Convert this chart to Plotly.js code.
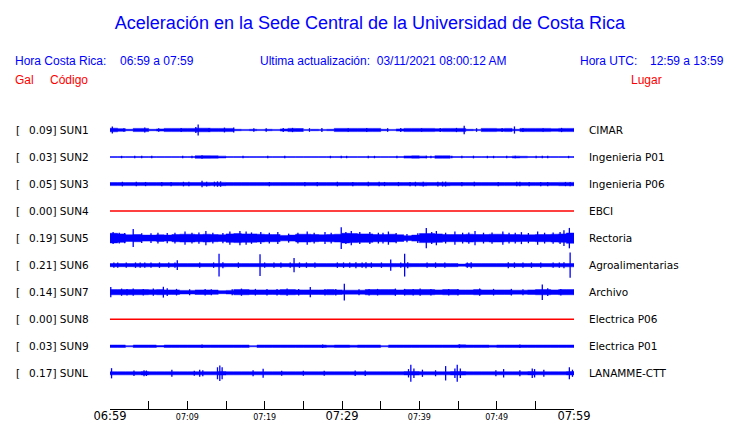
<!DOCTYPE html>
<html>
<head>
<meta charset="utf-8">
<script src="https://cdn.plot.ly/plotly-3.0.1.min.js"></script>
<style>html,body{margin:0;padding:0;background:#fff;}</style>
</head>
<body>
<div id="chart" style="width:740px;height:423px;"></div>
<script>
// ---- data (amplitudes in gal, time in minutes after 06:59) ----
var codes  = ["SUN1","SUN2","SUN3","SUN4","SUN5","SUN6","SUN7","SUN8","SUN9","SUNL"];
var places = ["CIMAR","Ingenieria P01","Ingenieria P06","EBCI","Rectoria","Agroalimentarias","Archivo","Electrica P06","Electrica P01","LANAMME-CTT"];
var peaks  = [0.09,0.03,0.05,0.00,0.19,0.21,0.14,0.00,0.03,0.17];

var tickMinutes = [0,5,10,15,20,25,30,35,40,45,50,55,60];
var tickLabels  = ["06:59","","07:09","","07:19","","07:29","","07:39","","07:49","","07:59"];
var bigTicks    = ["06:59","07:29","07:59"];

// per-minute half-amplitude of the background band
var bandSUN1 = [0.03,0.022,0.012,0.027,0.027,0.012,0.018,0.027,0.027,0.027,0.027,0.03,0.03,0.027,0.027,0.027,0.012,0.01,0.012,0.01,0.012,0.01,0.018,0.027,0.025,0.01,0.012,0.01,0.012,0.027,0.027,0.027,0.027,0.027,0.027,0.012,0.01,0.018,0.027,0.027,0.027,0.027,0.022,0.027,0.027,0.027,0.012,0.01,0.027,0.027,0.022,0.027,0.012,0.027,0.027,0.027,0.027,0.022,0.027,0.027];
var bandSUN2 = [0.008,0.008,0.008,0.008,0.008,0.008,0.008,0.008,0.008,0.008,0.008,0.02,0.022,0.02,0.015,0.008,0.008,0.008,0.008,0.008,0.008,0.008,0.008,0.008,0.008,0.008,0.008,0.008,0.008,0.008,0.008,0.008,0.008,0.008,0.008,0.008,0.008,0.008,0.018,0.02,0.015,0.008,0.02,0.02,0.008,0.008,0.008,0.008,0.008,0.008,0.008,0.008,0.015,0.012,0.008,0.008,0.008,0.008,0.008,0.008];
var bandSUN3 = [0.026,0.026,0.026,0.026,0.026,0.026,0.026,0.026,0.026,0.026,0.026,0.026,0.028,0.026,0.028,0.026,0.026,0.026,0.026,0.026,0.026,0.026,0.026,0.026,0.026,0.026,0.026,0.026,0.026,0.026,0.026,0.026,0.026,0.026,0.026,0.026,0.026,0.026,0.026,0.026,0.028,0.026,0.026,0.028,0.026,0.026,0.026,0.026,0.026,0.026,0.026,0.026,0.026,0.026,0.026,0.026,0.026,0.026,0.028,0.028];
var bandSUN4 = [];
var bandSUN5 = [0.08,0.07,0.055,0.06,0.05,0.05,0.055,0.05,0.06,0.065,0.065,0.06,0.065,0.06,0.055,0.07,0.075,0.07,0.07,0.065,0.06,0.06,0.045,0.05,0.065,0.065,0.06,0.055,0.06,0.065,0.08,0.075,0.07,0.07,0.06,0.06,0.065,0.055,0.04,0.05,0.075,0.075,0.07,0.06,0.06,0.06,0.065,0.06,0.06,0.065,0.065,0.06,0.06,0.055,0.055,0.06,0.06,0.065,0.07,0.085];
var bandSUN6 = [0.026,0.026,0.026,0.028,0.028,0.026,0.026,0.026,0.026,0.026,0.026,0.026,0.026,0.026,0.028,0.026,0.026,0.026,0.026,0.026,0.026,0.026,0.026,0.026,0.026,0.026,0.026,0.026,0.026,0.026,0.026,0.026,0.026,0.026,0.026,0.026,0.028,0.026,0.028,0.026,0.026,0.026,0.026,0.026,0.026,0.018,0.026,0.026,0.026,0.026,0.026,0.026,0.026,0.026,0.026,0.026,0.026,0.028,0.028,0.028];
var bandSUN7 = [0.043,0.043,0.043,0.043,0.043,0.04,0.043,0.038,0.038,0.03,0.03,0.038,0.038,0.036,0.025,0.03,0.043,0.043,0.038,0.038,0.038,0.038,0.043,0.043,0.038,0.038,0.038,0.038,0.043,0.038,0.033,0.033,0.033,0.043,0.043,0.043,0.043,0.038,0.043,0.043,0.043,0.043,0.038,0.043,0.043,0.038,0.038,0.043,0.038,0.038,0.038,0.038,0.033,0.033,0.038,0.043,0.043,0.038,0.043,0.043];
var bandSUN8 = [];
var bandSUN9 = [0.02,0.02,0.01,0.02,0.02,0.02,0.012,0.02,0.02,0.02,0.02,0.02,0.02,0.02,0.02,0.02,0.02,0.02,0.01,0.02,0.02,0.02,0.02,0.02,0.02,0.02,0.02,0.02,0.016,0.02,0.02,0.016,0.02,0.02,0.02,0.01,0.02,0.02,0.02,0.02,0.02,0.02,0.02,0.02,0.02,0.023,0.02,0.02,0.02,0.016,0.02,0.02,0.02,0.02,0.02,0.02,0.02,0.02,0.02,0.02];
var bandSUNL = [0.026,0.026,0.026,0.026,0.028,0.026,0.026,0.026,0.026,0.026,0.026,0.026,0.026,0.026,0.03,0.026,0.026,0.026,0.026,0.026,0.026,0.026,0.026,0.026,0.026,0.026,0.026,0.026,0.026,0.026,0.026,0.026,0.026,0.026,0.026,0.026,0.026,0.026,0.028,0.03,0.026,0.026,0.026,0.026,0.028,0.03,0.026,0.026,0.026,0.026,0.026,0.026,0.026,0.026,0.028,0.026,0.026,0.026,0.026,0.028];

// isolated peaks: [minute, half-amplitude]
var spikesSUN1 = [[0.3,0.06],[1.8,0.03],[4.5,0.04],[6.3,0.03],[9.2,0.035],[11.1,0.05],[11.4,0.09],[12.8,0.035],[14.8,0.04],[16.0,0.04],[18.6,0.03],[20.2,0.03],[22.4,0.035],[23.6,0.035],[25.8,0.03],[27.4,0.035],[30.8,0.03],[33.2,0.035],[35.9,0.03],[37.6,0.035],[40.3,0.03],[42.7,0.035],[44.8,0.035],[45.8,0.07],[47.4,0.03],[50.7,0.035],[52.3,0.06],[53.4,0.035],[56.0,0.03],[58.4,0.035]];
var spikesSUN2 = [[1.5,0.02],[3.2,0.02],[4.1,0.02],[5.4,0.02],[9.4,0.02],[10.6,0.02],[11.9,0.03],[17.2,0.02],[20.4,0.02],[22.6,0.02],[28.5,0.02],[29.9,0.02],[30.6,0.02],[33.4,0.022],[34.2,0.02],[37.1,0.02],[40.9,0.022],[41.5,0.02],[44.2,0.022],[45.5,0.022],[47.0,0.022],[48.8,0.02],[49.6,0.02],[51.3,0.02],[52.4,0.022],[55.1,0.02],[55.9,0.02],[56.6,0.02],[59.3,0.02]];
var spikesSUN3 = [[1.6,0.038],[3.4,0.038],[4.6,0.035],[6.7,0.035],[7.9,0.035],[9.5,0.038],[10.2,0.038],[11.9,0.055],[12.5,0.04],[13.5,0.04],[13.9,0.045],[14.3,0.045],[20.6,0.035],[25.2,0.035],[26.8,0.035],[29.4,0.038],[31.4,0.035],[33.4,0.038],[34.8,0.038],[35.5,0.035],[37.3,0.035],[38.8,0.035],[39.5,0.038],[40.5,0.04],[42.4,0.04],[43.0,0.04],[43.4,0.04],[45.5,0.035],[47.1,0.038],[50.2,0.035],[52.6,0.038],[53.0,0.038],[54.2,0.035],[55.7,0.035],[56.6,0.035],[58.9,0.035],[59.5,0.035]];
var spikesSUN4 = [];
var spikesSUN5 = [[0.4,0.1],[1.2,0.09],[1.9,0.085],[3.0,0.15],[4.1,0.08],[5.3,0.08],[6.2,0.09],[7.4,0.085],[8.4,0.09],[9.7,0.11],[10.6,0.09],[11.5,0.095],[12.4,0.12],[13.3,0.09],[14.6,0.085],[15.5,0.11],[16.8,0.12],[17.6,0.11],[18.3,0.095],[19.5,0.1],[20.6,0.09],[21.7,0.1],[23.1,0.075],[24.3,0.09],[25.5,0.11],[26.4,0.09],[27.8,0.1],[28.6,0.09],[29.9,0.18],[30.5,0.1],[31.2,0.12],[32.3,0.1],[33.6,0.1],[34.7,0.09],[35.3,0.09],[36.0,0.11],[37.0,0.085],[38.4,0.07],[39.8,0.08],[40.9,0.17],[41.6,0.1],[42.2,0.12],[43.4,0.09],[44.6,0.11],[45.6,0.09],[46.4,0.095],[47.2,0.12],[48.3,0.09],[49.4,0.095],[50.8,0.11],[51.6,0.09],[52.4,0.09],[53.2,0.1],[54.1,0.085],[55.3,0.11],[56.2,0.09],[57.3,0.095],[58.2,0.1],[58.7,0.13],[59.4,0.17]];
var spikesSUN6 = [[0.5,0.045],[1.0,0.045],[2.1,0.045],[3.3,0.045],[3.9,0.045],[4.5,0.045],[5.3,0.045],[6.4,0.045],[7.6,0.045],[8.4,0.045],[8.7,0.08],[11.6,0.045],[13.4,0.045],[14.1,0.19],[14.6,0.05],[16.6,0.045],[19.4,0.18],[20.0,0.045],[21.2,0.045],[22.1,0.045],[23.3,0.045],[23.8,0.12],[24.5,0.045],[25.4,0.045],[26.5,0.045],[29.4,0.045],[30.2,0.045],[31.0,0.045],[31.8,0.05],[32.6,0.045],[33.1,0.05],[33.8,0.045],[35.1,0.045],[36.3,0.095],[37.6,0.045],[38.1,0.19],[38.5,0.05],[41.0,0.045],[42.1,0.045],[43.3,0.045],[46.2,0.045],[46.7,0.05],[51.5,0.05],[52.3,0.045],[53.4,0.045],[54.5,0.045],[55.7,0.045],[57.3,0.045],[58.1,0.045],[58.7,0.05],[59.5,0.21]];
var spikesSUN7 = [[0.1,0.085],[1.5,0.06],[2.2,0.055],[3.0,0.06],[4.3,0.055],[5.6,0.06],[6.9,0.09],[7.4,0.065],[8.6,0.055],[10.3,0.05],[12.3,0.055],[13.1,0.05],[15.8,0.05],[17.0,0.06],[18.8,0.055],[20.3,0.055],[21.6,0.055],[22.9,0.06],[24.4,0.055],[25.9,0.085],[27.8,0.055],[29.2,0.055],[30.3,0.14],[32.2,0.05],[33.5,0.055],[34.6,0.055],[36.9,0.06],[38.1,0.055],[39.2,0.055],[40.1,0.06],[41.5,0.055],[43.8,0.055],[45.0,0.055],[47.8,0.06],[49.6,0.055],[51.9,0.055],[53.4,0.05],[55.9,0.13],[56.6,0.065],[58.3,0.055]];
var spikesSUN8 = [];
var spikesSUN9 = [[11.9,0.03],[27.5,0.028],[45.2,0.03],[53.0,0.028]];
var spikesSUNL = [[0.2,0.085],[3.1,0.045],[4.4,0.05],[4.7,0.045],[8.0,0.06],[10.9,0.04],[11.6,0.06],[12.0,0.05],[13.9,0.1],[14.2,0.13],[14.5,0.1],[18.5,0.05],[19.8,0.075],[22.2,0.04],[25.0,0.04],[27.7,0.04],[31.7,0.045],[33.0,0.045],[38.6,0.07],[38.9,0.14],[39.3,0.08],[40.4,0.06],[42.1,0.05],[43.4,0.12],[44.6,0.08],[44.9,0.14],[45.3,0.08],[49.9,0.05],[50.9,0.07],[53.0,0.05],[54.6,0.08],[54.9,0.07],[56.1,0.06],[59.4,0.1],[59.8,0.06]];

var bands  = [bandSUN1,bandSUN2,bandSUN3,bandSUN4,bandSUN5,bandSUN6,bandSUN7,bandSUN8,bandSUN9,bandSUNL];
var spikes = [spikesSUN1,spikesSUN2,spikesSUN3,spikesSUN4,spikesSUN5,spikesSUN6,spikesSUN7,spikesSUN8,spikesSUN9,spikesSUNL];

// ---- layout geometry ----
var ROW = 0.4505;          // vertical spacing between stations (gal units on the plot)
var Y_TOP = 0.3333, Y_BOT = Y_TOP - 299/60;
var BLUE = "#0000ff", RED = "#ff0000";
var LBL_FONT = "DejaVu Sans";
var HDR_FONT = "Liberation Sans, Arial, sans-serif";

var traces = [];
codes.forEach(function(code, k){
  var off = -k * ROW;
  var b = bands[k];
  if (peaks[k] === 0 || b.length === 0) {
    traces.push({x:[0,60], y:[off,off], mode:"lines", line:{color:RED,width:1.5,simplify:false}, hoverinfo:"skip", showlegend:false});
    return;
  }
  // step envelope polygon
  var px = [], py = [];
  for (var i=0;i<b.length;i++){ px.push(i, i+1); py.push(off+b[i], off+b[i]); }
  for (var j=b.length-1;j>=0;j--){ px.push(j+1, j); py.push(off-b[j], off-b[j]); }
  traces.push({x:px, y:py, mode:"lines", fill:"toself", fillcolor:BLUE, line:{color:BLUE,width:0.5,simplify:false}, hoverinfo:"skip", showlegend:false});
  var sx = [], sy = [];
  spikes[k].forEach(function(s){ sx.push(s[0], s[0], null); sy.push(off-s[1], off+s[1], null); });
  traces.push({x:sx, y:sy, mode:"lines", line:{color:BLUE,width:1.3,simplify:false}, hoverinfo:"skip", showlegend:false, connectgaps:false});
});

var pxToPaperX = function(p){ return (p-110)/464; };
var pxToPaperY = function(p){ return (409-p)/299; };

var annotations = [];
codes.forEach(function(code,k){
  var off = -k*ROW;
  annotations.push({xref:"paper", yref:"y", x:pxToPaperX(14), y:off, xanchor:"left", yanchor:"middle", showarrow:false, text:"[", font:{family:LBL_FONT,size:10.5,color:"#000"}});
  annotations.push({xref:"paper", yref:"y", x:pxToPaperX(27), y:off, xanchor:"left", yanchor:"middle", showarrow:false, text:peaks[k].toFixed(2)+"] "+code, font:{family:LBL_FONT,size:10.5,color:"#000"}});
  annotations.push({xref:"paper", yref:"y", x:pxToPaperX(587), y:off, xanchor:"left", yanchor:"middle", showarrow:false, text:places[k], font:{family:LBL_FONT,size:10.5,color:"#000"}});
});
function hdr(text, xpx, ypx, anchor, color){
  annotations.push({xref:"paper", yref:"paper", x:pxToPaperX(xpx), y:pxToPaperY(ypx), xanchor:anchor, yanchor:"middle", showarrow:false, text:text, font:{family:HDR_FONT,size:12,color:color}});
}
hdr("Hora Costa Rica:", 13, 60.5, "left", BLUE);
hdr("06:59 a 07:59", 118, 60.5, "left", BLUE);
hdr("Ultima actualización:  03/11/2021 08:00:12 AM", 258, 60.5, "left", BLUE);
hdr("Hora UTC:", 578, 60.5, "left", BLUE);
hdr("12:59 a 13:59", 726, 60.5, "right", BLUE);
hdr("Gal", 13, 80.5, "left", RED);
hdr("Código", 48, 80.5, "left", RED);
hdr("Lugar", 629, 80.5, "left", RED);

var tickText = tickLabels.map(function(t){
  if (bigTicks.indexOf(t) >= 0) return '<span style="font-size:11.5px;font-weight:normal">'+t+'</span>';
  return t;
});

var layout = {
  width:740, height:423,
  margin:{l:110, r:166, t:110, b:14, pad:0},
  paper_bgcolor:"#fff", plot_bgcolor:"#fff",
  showlegend:false,
  title:{text:"Aceleración en la Sede Central de la Universidad de Costa Rica", x:0.5, xref:"container", xanchor:"center", y:1-22.5/423, yref:"container", yanchor:"middle", font:{family:HDR_FONT, size:18, color:BLUE}},
  xaxis:{range:[0,60], showgrid:false, zeroline:false, showline:true, linecolor:"#000", linewidth:1,
         ticks:"inside", ticklen:8, tickwidth:1, tickcolor:"#000",
         tickmode:"array", tickvals:tickMinutes, ticktext:tickText,
         tickfont:{family:LBL_FONT, size:8, color:"#000"}, fixedrange:true, automargin:false},
  yaxis:{range:[Y_BOT, Y_TOP], visible:false, fixedrange:true},
  annotations:annotations
};

Plotly.newPlot("chart", traces, layout, {staticPlot:true, displayModeBar:false});
</script>
</body>
</html>
